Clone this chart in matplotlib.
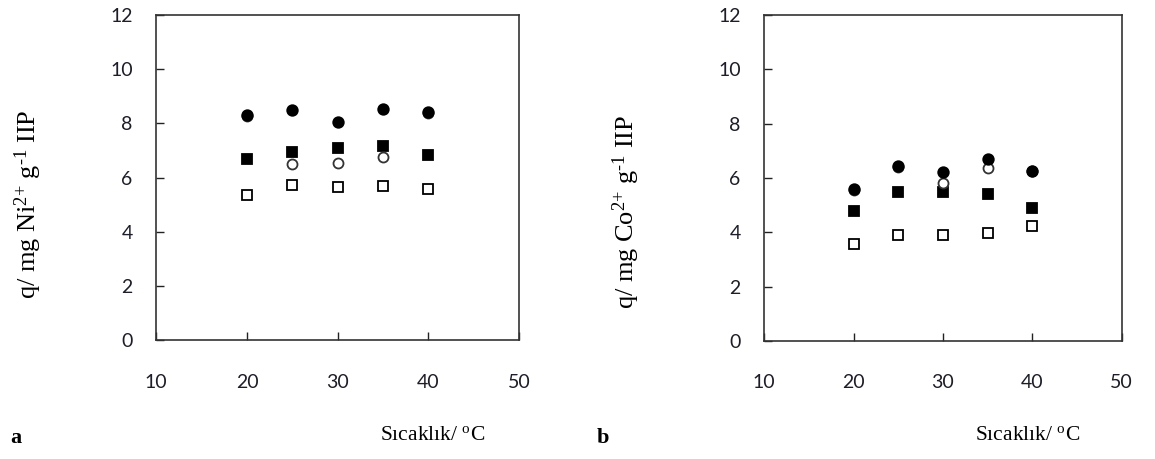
import matplotlib
matplotlib.use("Agg")
import matplotlib.pyplot as plt

plt.rcParams["mathtext.fontset"] = "custom"
plt.rcParams["mathtext.rm"] = "Liberation Serif"
plt.rcParams["mathtext.it"] = "Liberation Serif:italic"

# Temperature (°C)
temperature = [20, 25, 30, 35, 40]

# Panel a: Ni(II) uptake, mg/g IIP
ni_filled_circle = [8.31, 8.49, 8.04, 8.55, 8.43]
ni_open_circle = [8.26, 6.49, 6.55, 6.77, 8.40]
ni_filled_square = [6.68, 6.93, 7.08, 7.16, 6.83]
ni_open_square = [5.35, 5.72, 5.66, 5.70, 5.58]

# Panel b: Co(II) uptake, mg/g IIP
co_filled_circle = [5.58, 6.45, 6.23, 6.70, 6.27]
co_open_circle = [5.54, 6.41, 5.80, 6.36, 6.24]
co_filled_square = [4.78, 5.47, 5.47, 5.41, 4.88]
co_open_square = [3.57, 3.90, 3.90, 3.96, 4.23]

x_ticks = [10, 20, 30, 40, 50]
y_ticks = [0, 2, 4, 6, 8, 10, 12]

ylabels = [r"q/ mg Ni$^{\text{2+}}$ g$^{\text{-1}}$ IIP",
           r"q/ mg Co$^{\text{2+}}$ g$^{\text{-1}}$ IIP"]
xlabel = r"Sıcaklık/ $^{\mathrm{o}}$C"
panel_letters = ["a", "b"]

fig = plt.figure(figsize=(11.55, 4.59), dpi=100)
ax_a = fig.add_axes([0.1353, 0.2586, 0.3141, 0.7087])
ax_b = fig.add_axes([0.6617, 0.2571, 0.3094, 0.7102])

serif = "Liberation Serif"
ms = 7.2
mew = 1.3


def draw(ax, fc, oc, fs, os_):
    ax.plot(temperature, os_, "s", ms=ms, mfc="white", mec="black", mew=mew,
            linestyle="none", zorder=3)
    ax.plot(temperature, fs, "s", ms=ms, mfc="black", mec="black", mew=mew,
            linestyle="none", zorder=4)
    ax.plot(temperature, oc, "o", ms=ms, mfc="white", mec="#333333", mew=mew,
            linestyle="none", zorder=5)
    ax.plot(temperature, fc, "o", ms=ms + 0.4, mfc="black", mec="black",
            mew=mew, linestyle="none", zorder=6)
    ax.set_xlim(10, 50)
    ax.set_ylim(0, 12)
    ax.set_xticks(x_ticks)
    ax.set_yticks(y_ticks)
    ax.tick_params(direction="in", length=5.5, width=1.0, color="#222222")
    ax.tick_params(axis="x", pad=24)
    ax.tick_params(axis="y", pad=17)
    for lab in ax.get_xticklabels() + ax.get_yticklabels():
        lab.set_fontfamily("Lato")
        lab.set_fontsize(14)
        lab.set_color("#1e1e2a")
    for sp in ax.spines.values():
        sp.set_linewidth(1.2)
        sp.set_color("#333333")


draw(ax_a, ni_filled_circle, ni_open_circle, ni_filled_square, ni_open_square)
draw(ax_b, co_filled_circle, co_open_circle, co_filled_square, co_open_square)

# Y-axis titles
fig.text(28 / 1155, 1 - 204 / 459, ylabels[0], rotation=90, ha="center",
         va="center", family=serif, fontsize=19)
fig.text(626 / 1155, 1 - 212 / 459, ylabels[1], rotation=90, ha="center",
         va="center", family=serif, fontsize=19)

# Panel letters and x-axis titles
fig.text(10 / 1155, 1 - 438 / 459, panel_letters[0], ha="left", va="center",
         family=serif, fontsize=16, fontweight="bold")
fig.text(597 / 1155, 1 - 438 / 459, panel_letters[1], ha="left", va="center",
         family=serif, fontsize=16, fontweight="bold")
fig.text(380 / 1155, 1 - 436 / 459, xlabel, ha="left", va="center",
         family=serif, fontsize=15.5)
fig.text(975 / 1155, 1 - 436 / 459, xlabel, ha="left", va="center",
         family=serif, fontsize=15.5)

fig.savefig("out.png", dpi=100, facecolor="white")
